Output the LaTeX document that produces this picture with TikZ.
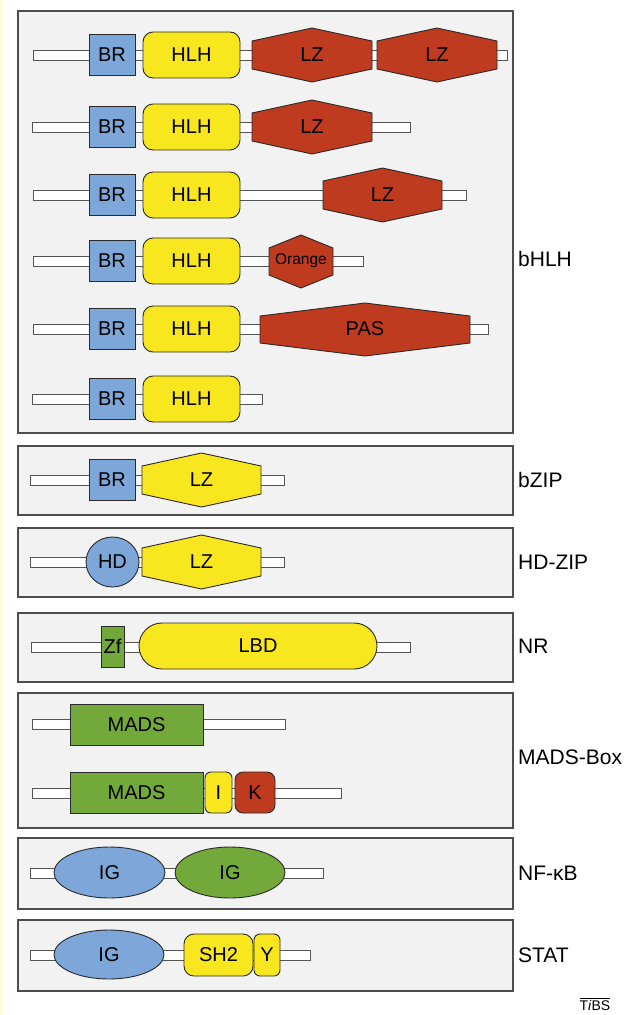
\documentclass[tikz,border=0pt]{standalone}
\usepackage{fontspec}
\setmainfont{Liberation Sans}
\usetikzlibrary{shapes.geometric}
\definecolor{dblue}{HTML}{7DA7D9}
\definecolor{dyellow}{HTML}{F8E61E}
\definecolor{dred}{HTML}{BE3B1F}
\definecolor{dgreen}{HTML}{73A93B}
\definecolor{panelfill}{HTML}{F2F2F2}
\definecolor{paneledge}{HTML}{4D4D4D}
\definecolor{edgecol}{HTML}{2A2A2A}
\definecolor{stripcol}{HTML}{FFFBDC}
\tikzset{
  panel/.style={draw=paneledge, fill=panelfill, line width=1.3pt},
  backbone/.style={draw=edgecol!80, fill=white, line width=0.9pt},
  dom/.style={draw=edgecol, line width=0.9pt, inner sep=0pt, font=\fontsize{20}{22}\selectfont},
  lbl/.style={inner sep=0pt, font=\fontsize{20}{22}\selectfont},
  famlbl/.style={anchor=west, inner sep=0pt, font=\fontsize{21}{23}\selectfont},
  brbox/.style={dom, fill=dblue, minimum width=46pt, minimum height=41pt},
  hlhbox/.style={dom, fill=dyellow, rounded corners=10pt, minimum width=97pt, minimum height=46pt},
}
\newcommand\hexdom[8]{%
  \filldraw[draw=edgecol, line width=0.9pt, fill=#7] (#2,#4-#6) -- ({(#2+#3)/2},#4-#5) -- (#3,#4-#6) -- (#3,#4+#6) -- ({(#2+#3)/2},#4+#5) -- (#2,#4+#6) -- cycle;
  \node[lbl] (#1) at ({(#2+#3)/2},#4) {#8};}
\newcommand\bbone[3]{\draw[backbone] (#1,#3-5) rectangle (#2,#3+5);}
\begin{document}
\begin{tikzpicture}[x=1pt,y=-1pt]
\useasboundingbox (0,0) rectangle (630,1015);
\fill[white] (0,0) rectangle (630,1015);
\fill[stripcol] (0,0) rectangle (2.5,1015);
% panels
\draw[panel] (18,11) rectangle (513,433);
\draw[panel] (18,446) rectangle (513,515);
\draw[panel] (18,528) rectangle (513,597);
\draw[panel] (18,613) rectangle (513,682);
\draw[panel] (18,693) rectangle (513,828);
\draw[panel] (18,838) rectangle (513,909);
\draw[panel] (18,920) rectangle (513,991);
% family labels
\node[famlbl] (fbhlh) at (518,259) {bHLH};
\node[famlbl] (fbzip) at (518,480) {bZIP};
\node[famlbl] (fhdzip) at (518,562) {HD-ZIP};
\node[famlbl] (fnr) at (518,646) {NR};
\node[famlbl] (fmads) at (518,757) {MADS-Box};
\node[famlbl] (fnfkb) at (518,873) {NF-κB};
\node[famlbl] (fstat) at (518,955) {STAT};
\node[inner sep=0pt, font=\fontsize{14}{16}\selectfont] (tibs) at (595,1004) {$\overline{\hbox{T\textit{i}BS}}$};
% bHLH row 1
\bbone{33}{507}{55}
\node[brbox] (br1) at (112,55) {BR};
\node[hlhbox] (hlh1) at (191.5,55) {HLH};
\hexdom{lza1}{252}{372}{55}{27}{14}{dred}{LZ}
\hexdom{lzb1}{377}{497}{55}{27}{14}{dred}{LZ}
% row 2
\bbone{32}{410}{127}
\node[brbox] (br2) at (112,127) {BR};
\node[hlhbox] (hlh2) at (191.5,127) {HLH};
\hexdom{lz2}{252}{372}{127}{27}{14}{dred}{LZ}
% row 3
\bbone{33}{466}{195}
\node[brbox] (br3) at (112,195) {BR};
\node[hlhbox] (hlh3) at (191.5,195) {HLH};
\hexdom{lz3}{323}{442}{195}{27}{14}{dred}{LZ}
% row 4
\bbone{33}{363}{261}
\node[brbox] (br4) at (112,261) {BR};
\node[hlhbox] (hlh4) at (191.5,261) {HLH};
\filldraw[draw=edgecol, line width=0.9pt, fill=dred] (269,248) -- (301,235) -- (333,248) -- (333,275) -- (301,288) -- (269,275) -- cycle;
\node[inner sep=0pt, font=\fontsize{15.5}{17}\selectfont] (orange) at (301,261) {Orange};
% row 5
\bbone{33}{488}{329}
\node[brbox] (br5) at (112,329) {BR};
\node[hlhbox] (hlh5) at (191.5,329) {HLH};
\filldraw[draw=edgecol, line width=0.9pt, fill=dred] (260,316) -- (365,303) -- (470,316) -- (470,343) -- (365,356) -- (260,343) -- cycle;
\node[lbl] (pas) at (365,329) {PAS};
% row 6
\bbone{32}{262}{399}
\node[brbox] (br6) at (112,399) {BR};
\node[hlhbox] (hlh6) at (191.5,399) {HLH};
% bZIP
\bbone{30}{284}{480}
\node[brbox] (brz) at (112,480) {BR};
\hexdom{lzz}{142}{261}{480}{27}{14}{dyellow}{LZ}
% HD-ZIP
\bbone{30}{284}{562}
\node[dom, fill=dblue, ellipse, minimum width=53pt, minimum height=50pt] (hd) at (112.5,562) {HD};
\hexdom{lzh}{142}{261}{562}{27}{14}{dyellow}{LZ}
% NR
\bbone{31}{410}{647}
\node[dom, fill=dgreen, minimum width=23pt, minimum height=41pt] (zf) at (112.5,646.5) {Zf};
\node[dom, fill=dyellow, rounded corners=23pt, minimum width=238pt, minimum height=46pt] (lbd) at (258,646) {LBD};
% MADS-Box
\bbone{32}{285}{724}
\node[dom, fill=dgreen, minimum width=133pt, minimum height=41pt] (mads1) at (136.5,724.5) {MADS};
\bbone{32}{341}{793}
\node[dom, fill=dgreen, minimum width=133pt, minimum height=41pt] (mads2) at (136.5,792.5) {MADS};
\node[dom, fill=dyellow, rounded corners=6pt, minimum width=27pt, minimum height=41pt] (idom) at (218.5,792.5) {I};
\node[dom, fill=dred, rounded corners=8pt, minimum width=40pt, minimum height=41pt] (kdom) at (255,792.5) {K};
% NF-kB
\bbone{30}{323}{873}
\node[dom, fill=dblue, ellipse, minimum width=111pt, minimum height=51pt] (ig1) at (109.5,872.5) {IG};
\node[dom, fill=dgreen, ellipse, minimum width=110pt, minimum height=51pt] (ig2) at (230,872.5) {IG};
% STAT
\bbone{30}{310}{955}
\node[dom, fill=dblue, ellipse, minimum width=110pt, minimum height=49pt] (ig3) at (109,954.5) {IG};
\node[dom, fill=dyellow, rounded corners=10pt, minimum width=69pt, minimum height=42pt] (sh2) at (218.5,955) {SH2};
\node[dom, fill=dyellow, rounded corners=6pt, minimum width=26pt, minimum height=42pt] (ydom) at (267,955) {Y};
\end{tikzpicture}
\end{document}
